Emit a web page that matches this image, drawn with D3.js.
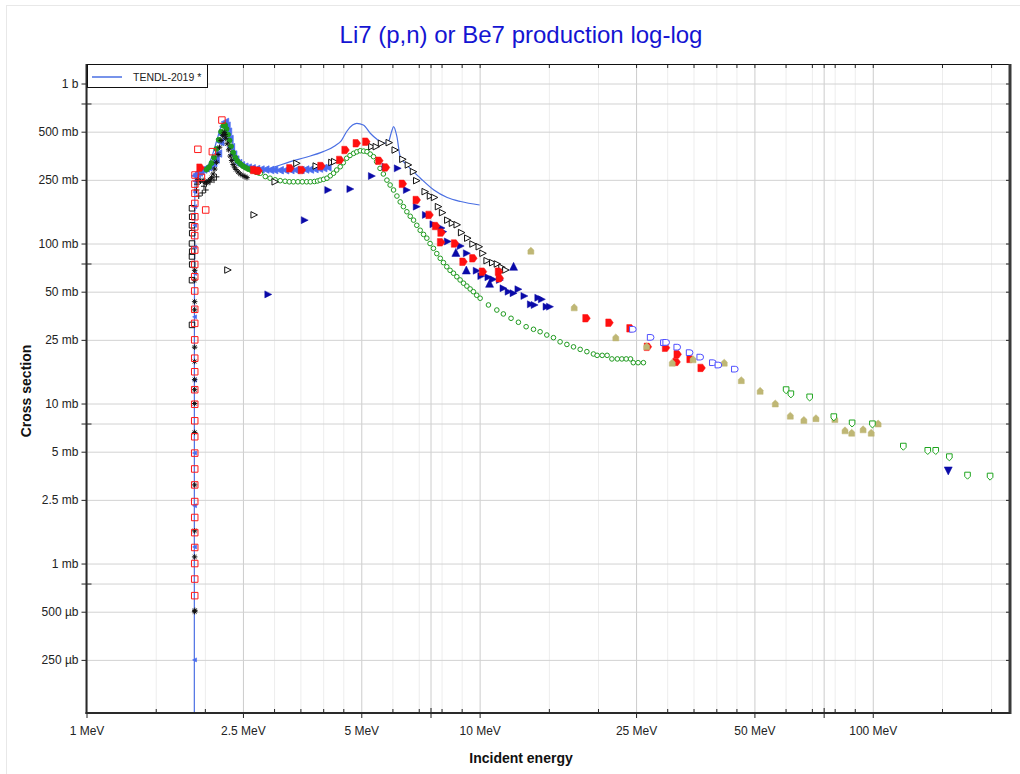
<!DOCTYPE html>
<html><head><meta charset="utf-8">
<script src="https://cdn.jsdelivr.net/npm/d3@7"></script>
<style>body{margin:0;background:#fff;} svg{display:block;font-family:"Liberation Sans",Arial,sans-serif;}</style>
</head><body><svg id="c" width="1020" height="774"></svg>
<script>
// ---------- DATA (energy MeV, cross section mb) ----------
const tendl = [[1.8804,0.01],[1.8806,1],[1.881,20],[1.883,100],[1.886,200],[1.89,245],[1.90,265],[1.95,275],[2.0,290],[2.05,315],[2.10,370],[2.15,450],[2.20,540],[2.25,580],[2.30,510],[2.35,430],[2.40,360],[2.45,325],[2.55,300],[2.65,288],[2.77,283],[3.0,300],[3.3,325],[3.6,345],[4.0,375],[4.3,410],[4.45,440],[4.6,505],[4.75,550],[4.87,564],[5.06,551],[5.27,489],[5.5,445],[5.69,423],[5.86,433],[5.97,500],[6.04,537],[6.16,465],[6.28,349],[6.53,310],[7.07,256],[7.65,216],[8.27,194],[8.95,183],[10.0,174]];

const redOpenSq = [[1.885,0.63],[1.885,0.80],[1.885,1.0],[1.885,1.26],[1.885,1.56],[1.885,1.94],[1.885,2.44],[1.885,3.1],[1.885,3.9],[1.885,4.9],[1.885,6.2],[1.885,7.8],[1.885,9.9],[1.885,12.2],[1.885,15.8],[1.885,19.2],[1.885,25],[1.885,31.7],[1.885,38.8],[1.885,50.5],[1.885,62],[1.885,74],[1.885,91],[1.885,112],[1.885,127],[1.886,147],[1.886,178],[1.887,206],[1.887,235],[1.888,268],[1.92,388],[2.09,375],[2.01,162],[2.21,591],[1.96,259]];

const blackStar = [[1.884,0.50],[1.886,0.51],[1.884,1.1],[1.884,1.6],[1.884,3.1],[1.884,6.6],[1.884,10],[1.884,12.2],[1.884,14.1],[1.884,18.3],[1.884,22.5],[1.884,38.5],[1.884,43.3],[1.884,59],[1.884,68],[1.92,250],[1.95,245],[1.98,248],[2.0,242],[2.02,238],[2.04,245],[2.06,250],[2.08,258],[2.10,272],[2.12,292],[2.14,322],[2.16,360],[2.18,400],[2.20,440],[2.22,472],[2.24,495],[2.25,480],[2.26,455],[2.28,420],[2.30,385],[2.32,352],[2.34,330],[2.36,312],[2.38,300],[2.40,290],[2.43,280],[2.46,272],[2.50,266],[2.53,262],[2.56,258]];

const blackPlus = [[1.905,216],[1.93,198],[1.97,207],[2.01,216],[2.06,242],[2.11,249],[2.14,261],[1.91,235],[1.99,228]];

const blackSq = [[1.855,31],[1.855,59],[1.857,74],[1.855,83],[1.857,89],[1.855,100],[1.857,116],[1.855,130],[1.857,147],[1.855,166]];

const blueThreshold = [[1.883,0.25],[1.883,1.27],[1.883,2.3],[1.883,4.9],[1.883,14],[1.883,34.8],[1.884,65],[1.884,95],[1.885,130],[1.886,170],[1.887,210],[1.888,245]];

const blueBand = [[1.89,265],[1.91,272],[1.93,278],[1.95,283],[1.98,290],[2.01,295],[2.04,300],[2.07,305],[2.10,318],[2.13,335],[2.16,365],[2.19,430],[2.21,480],[2.23,540],[2.25,575],[2.27,545],[2.29,500],[2.31,450],[2.33,400],[2.36,360],[2.39,335],[2.43,318],[2.47,308],[2.52,302],[2.57,298],[2.63,295],[2.70,292],[2.77,290],[2.85,290],[2.93,288],[3.0,288],[3.1,287],[3.2,287],[3.3,288],[3.4,288],[3.5,288],[3.6,290],[3.7,290],[3.8,292],[3.9,294],[4.0,296],[4.1,300]];

const greenDense = [[2.02,290],[2.05,300],[2.08,318],[2.11,345],[2.14,390],[2.17,445],[2.20,500],[2.23,545],[2.25,550],[2.27,520],[2.29,480],[2.31,440],[2.33,405],[2.36,370],[2.39,345],[2.42,328],[2.46,315],[2.50,305],[2.54,298],[2.58,292],[2.62,288],[2.66,285],[2.70,280],[2.74,277]];

const greenCirc = [[2.77,275],[2.85,262],[2.93,256],[3.02,250],[3.11,247],[3.2,245],[3.28,243],[3.36,243],[3.45,243],[3.54,243],[3.63,243],[3.71,243],[3.8,244],[3.87,246],[3.93,249],[4.01,252],[4.09,256],[4.17,265],[4.25,275],[4.33,288],[4.42,302],[4.5,320],[4.59,341],[4.68,355],[4.78,366],[4.87,374],[4.97,380],[5.07,378],[5.17,375],[5.27,362],[5.37,349],[5.47,325],[5.58,295],[5.69,272],[5.81,249],[5.92,232],[6.04,216],[6.16,198],[6.28,182],[6.4,170],[6.53,158],[6.66,148],[6.79,140],[6.92,130],[7.06,121],[7.2,114],[7.34,108],[7.48,100],[7.63,93.3],[7.78,86.5],[7.94,80.8],[8.09,76],[8.25,71.6],[8.41,68],[8.58,65.2],[8.75,62],[8.92,59.2],[9.1,56.5],[9.28,54.2],[9.46,52],[9.64,50],[9.83,47.5],[10.03,45.5],
 [10.53,41.3],[11.06,38.4],[11.49,36.3],[12.02,34.1],[12.55,32.2],[13.13,30.2],[13.71,29.1],[14.25,28.1],[14.82,26.8],[15.41,25.8],[16.02,24.3],[16.67,23.4],[17.33,22.6],[18.02,21.8],[18.74,21.1],[19.47,20.4],[19.9,20.0],[20.5,20.0],[21.1,20.0],[21.7,19.0],[22.4,19.0],[23.0,19.0],[23.6,19.0],[24.2,19.0],[24.6,18.0],[25.3,18.0],[26.1,18.0]];

const blackTriR = [[2.29,68.3],[2.67,151],[3.02,243],[3.43,317],[3.84,305],[4.21,321],[4.28,325],[5.32,403],[5.46,403],[5.63,423],[5.89,427],[6.1,384],[6.38,336],[6.59,310],[6.79,281],[6.92,247],[7.27,211],[7.5,198],[7.68,194],[7.86,170],[8.05,156],[8.3,140],[8.53,134],[8.77,131],[9.0,117],[9.33,108],[9.62,99.3],[9.98,95.5],[10.2,86.9],[10.45,78.1],[10.8,75.9],[11.1,74.5],[11.4,71],[11.66,68.3]];

const navyTriR = [[2.9,48.1],[3.59,140],[4.12,216],[4.69,219],[5.32,264],[5.76,302],[6.19,295],[6.53,216],[6.92,170],[7.3,151],[7.63,132],[8.0,125],[8.08,118.6],[8.3,103],[8.95,96.5],[9.28,86.9],[9.83,67.6],[10.1,62.6],[10.53,61.5],[10.83,59.7],[11.26,59.2],[11.5,52.5],[11.85,50],[12.2,48.9],[12.55,51.8],[13.0,47],[13.5,41.7],[13.8,41.3],[14.1,45.8],[14.4,44.8],[14.8,40.3],[15.1,40.3]];
const navyTriU = [[8.7,88],[9.25,68.3],[10.6,56.4],[12.2,72]];
const navyTriD = [[155.6,3.79]];

const redPent = [[1.95,298],[2.67,288],[2.74,285],[3.3,295],[3.53,288],[3.96,305],[4.42,333],[4.56,384],[4.87,423],[5.15,433],[5.56,329],[5.78,299],[6.38,236],[6.92,187],[7.46,151],[7.75,128.6],[8.0,117],[7.98,101.7],[8.66,100],[9.1,76.9],[9.64,80.8],[10.2,66.7],[11.2,66.7],[11.26,60.7],[18.7,34.1],[21.4,32.0],[24.2,29.5],[26.8,22.6],[29.8,22.3],[31.9,20.3],[31.7,18.2],[34.4,19.0],[36.7,16.7]];

const oliveHouse = [[13.5,90.2],[17.4,39.9],[22.2,25.9],[26.6,22.8],[30.9,18.0],[34.9,18.9],[41.9,18.0],[46.3,14.0],[51.7,12.0],[56.5,10.0],[61.7,8.4],[66.8,7.9],[71.7,8.1],[80.1,8.0],[85,6.8],[88.4,6.57],[94.5,6.9],[99.1,6.57],[103.2,7.5]];

const blueDee = [[24.6,29.1],[27.3,25.9],[29.5,24.0],[29.9,24.1],[31.9,22.5],[34.3,20.8],[36.5,19.5],[39.3,18.0],[40.6,17.4],[44.7,16.4]];

const greenShield = [[60.2,12.1],[61.9,11.4],[69.1,10.9],[79.6,8.2],[88.6,7.5],[99.8,7.4],[119.6,5.37],[138,5.05],[144.6,5.05],[156.6,4.61],[174.2,3.54],[198.8,3.49]];

// ---------- TICKS ----------
const xMajor = [1,2.5,5,10,25,50,100];
const xMid = [7.5,75];
const xMinor = [1.5,2,3,3.5,4,4.5,6,7,8,9,15,20,30,35,40,45,60,70,80,90,150,200];
const yMajor = [1000,500,250,100,50,25,10,5,2.5,1,0.5,0.25];
const yMid = [750,75,7.5,0.75];

const titleText = "Li7 (p,n) or Be7 production log-log";
const xTitle = "Incident energy";
const yTitle = "Cross section";
const legendLabel = "TENDL-2019 *";

// ---------- LAYOUT ----------
const L=86.5, R=1010, T=64, B=713;
const x = d3.scaleLog().domain([1,223.4]).range([L,R]);
const y = d3.scaleLog().domain([0.1164,1324]).range([B,T]);
const svg = d3.select("#c");

svg.append("rect").attr("x",6.5).attr("y",5.5).attr("width",1030).attr("height",800)
  .attr("fill","#fff").attr("stroke","#e8e8e8");

svg.append("defs").append("clipPath").attr("id","clip")
  .append("rect").attr("x",L).attr("y",T).attr("width",R-L).attr("height",B-T);

// grids
function gridX(vals,col){
  svg.append("g").attr("transform",`translate(0,${B})`)
   .call(d3.axisBottom(x).tickValues(vals).tickSize(-(B-T)).tickFormat(""))
   .call(g=>{g.select(".domain").remove();g.selectAll("line").attr("stroke",col);});
}
function gridY(vals,col){
  svg.append("g").attr("transform",`translate(${L},0)`)
   .call(d3.axisLeft(y).tickValues(vals).tickSize(-(R-L)).tickFormat(""))
   .call(g=>{g.select(".domain").remove();g.selectAll("line").attr("stroke",col);});
}
gridX(xMinor,"#ededed");
gridX(xMajor.concat(xMid),"#cccccc");
gridY(yMajor.concat(yMid),"#d2d2d2");

// data
const plot = svg.append("g").attr("clip-path","url(#clip)");

const line = d3.line().x(d=>x(d[0])).y(d=>y(d[1])).curve(d3.curveMonotoneX);
plot.append("path").datum(tendl).attr("d",line).attr("fill","none")
  .attr("stroke","#4a6fe3").attr("stroke-width",1.2);

const SH = {
 sq: s=>`M${-s/2},${-s/2}h${s}v${s}h${-s}Z`,
 triR: s=>`M${-s/2},${-s/2}L${s/2},0L${-s/2},${s/2}Z`,
 triL: s=>`M${s/2},${-s/2}L${-s/2},0L${s/2},${s/2}Z`,
 triU: s=>`M0,${-s/2}L${s/2},${s/2}L${-s/2},${s/2}Z`,
 triD: s=>`M0,${s/2}L${s/2},${-s/2}L${-s/2},${-s/2}Z`,
 plus: s=>`M${-s/2},0H${s/2}M0,${-s/2}V${s/2}`,
 star: s=>{const a=s/2,b=s*0.35;return `M${-a},0H${a}M0,${-a}V${a}M${-b},${-b}L${b},${b}M${-b},${b}L${b},${-b}`;},
 pent: s=>`M${-s/2},${-s/2}H${s*0.15}L${s/2},0L${s*0.15},${s/2}H${-s/2}Z`,
 house: s=>`M${-s/2*0.85},${s/2}V${-s*0.1}L0,${-s/2}L${s/2*0.85},${-s*0.1}V${s/2}Z`,
 dee: s=>{const h=s*0.38;return `M${-s/2},${-h}H0A${h},${h} 0 0 1 0,${h}H${-s/2}Z`;},
 shield: s=>`M${-s/2*0.8},${-s/2}H${s/2*0.8}V${s*0.1}L0,${s/2}L${-s/2*0.8},${s*0.1}Z`,
 circ: s=>{const r=s/2;return `M${-r},0A${r},${r} 0 1 0 ${r},0A${r},${r} 0 1 0 ${-r},0Z`;}
};
function series(data,shape,size,fill,stroke,sw){
  plot.append("g").selectAll("path").data(data).join("path")
   .attr("transform",d=>`translate(${x(d[0])},${y(d[1])})`)
   .attr("d",SH[shape](size)).attr("fill",fill).attr("stroke",stroke).attr("stroke-width",sw||1);
}
series(blackSq,"sq",5.5,"none","#111",1);
series(blueThreshold,"triL",4,"#4a6cf0","#4a6cf0",0.6);
series(blueBand,"triL",7.5,"#4a6cf0","#4a6cf0",0.8);
series(greenDense,"circ",5,"#1f9a1f","#1f9a1f",1);
series(greenCirc,"circ",4.6,"#fff","#1f9a1f",1);
series(blackStar,"star",5.5,"none","#111",1);
series(blackPlus,"plus",6,"none","#111",1);
series(redOpenSq,"sq",6.5,"none","#ff1a1a",1);
series(blackTriR,"triR",6.5,"#fff","#111",1);
series(navyTriR,"triR",7,"#0a0aa8","#0a0aa8",0.5);
series(navyTriU,"triU",8,"#0a0aa8","#0a0aa8",0.5);
series(navyTriD,"triD",8,"#0a0aa8","#0a0aa8",0.5);
series(redPent,"pent",7.5,"#ff1010","#ff1010",0.5);
series(oliveHouse,"house",7,"#bfb775","#bfb775",0.5);
series(blueDee,"dee",7.5,"#fff","#4f4fff",1);
series(greenShield,"shield",7,"#fff","#1ea51e",1);

// axes
const fmtY = v => v>=1000 ? (v/1000)+" b" : v>=1 ? v+" mb" : Math.round(v*1000)+" µb";
const fmtX = v => v+" MeV";
function styleAxis(g){g.select(".domain").remove();g.selectAll("line").attr("stroke","#222");
  g.selectAll("text").attr("fill","#222").style("font-size","12px").style("font-family","'Liberation Sans',Arial,sans-serif");}

// bottom
svg.append("g").attr("transform",`translate(0,${B})`)
 .call(d3.axisBottom(x).tickValues(xMajor).tickFormat(fmtX).tickSize(5).tickPadding(8)).call(styleAxis);
svg.append("g").attr("transform",`translate(0,${B})`)
 .call(d3.axisBottom(x).tickValues(xMinor).tickFormat("").tickSize(-4)).call(styleAxis);
svg.append("g").attr("transform",`translate(0,${B})`)
 .call(d3.axisBottom(x).tickValues(xMid).tickFormat("").tickSize(5)).call(styleAxis);
svg.append("g").attr("transform",`translate(0,${B})`)
 .call(d3.axisBottom(x).tickValues(xMid).tickFormat("").tickSize(-5)).call(styleAxis);
// top
svg.append("g").attr("transform",`translate(0,${T})`)
 .call(d3.axisTop(x).tickValues(xMajor.concat(xMinor,xMid)).tickFormat("").tickSize(-4)).call(styleAxis);
// left
svg.append("g").attr("transform",`translate(${L},0)`)
 .call(d3.axisLeft(y).tickValues(yMajor).tickFormat(fmtY).tickSize(5).tickPadding(3)).call(styleAxis);
svg.append("g").attr("transform",`translate(${L},0)`)
 .call(d3.axisLeft(y).tickValues(yMid).tickFormat("").tickSize(5)).call(styleAxis);
svg.append("g").attr("transform",`translate(${L},0)`)
 .call(d3.axisLeft(y).tickValues(yMid).tickFormat("").tickSize(-5)).call(styleAxis);
// right
svg.append("g").attr("transform",`translate(${R},0)`)
 .call(d3.axisRight(y).tickValues(yMajor.concat(yMid)).tickFormat("").tickSize(-4)).call(styleAxis);

// frame
svg.append("line").attr("x1",L).attr("x2",R).attr("y1",T+0.5).attr("y2",T+0.5).attr("stroke","#111").attr("stroke-width",1);
svg.append("line").attr("x1",R).attr("x2",R).attr("y1",T).attr("y2",B+1).attr("stroke","#3a3a3a").attr("stroke-width",3);
svg.append("line").attr("x1",L).attr("x2",L).attr("y1",T).attr("y2",B+1).attr("stroke","#2a2a2a").attr("stroke-width",2);
svg.append("line").attr("x1",L-1).attr("x2",R).attr("y1",B).attr("y2",B).attr("stroke","#2a2a2a").attr("stroke-width",2);

// legend
svg.append("rect").attr("x",87.5).attr("y",64.5).attr("width",120).attr("height",23).attr("fill","#fff").attr("stroke","#111");
svg.append("line").attr("x1",92).attr("x2",122).attr("y1",77).attr("y2",77).attr("stroke","#4a6fe3").attr("stroke-width",1.5);
svg.append("text").attr("x",133).attr("y",80.5).text(legendLabel).style("font-size","10.5px").attr("fill","#222");

// titles
svg.append("text").attr("x",521).attr("y",43).attr("text-anchor","middle").text(titleText)
  .style("font-size","24px").attr("fill","#1414d2");
svg.append("text").attr("x",521).attr("y",763).attr("text-anchor","middle").text(xTitle)
  .style("font-size","14px").style("font-weight","bold").attr("fill","#111");
svg.append("text").attr("transform","translate(31,391) rotate(-90)").attr("text-anchor","middle").text(yTitle)
  .style("font-size","14px").style("font-weight","bold").attr("fill","#111");
</script></body></html>
